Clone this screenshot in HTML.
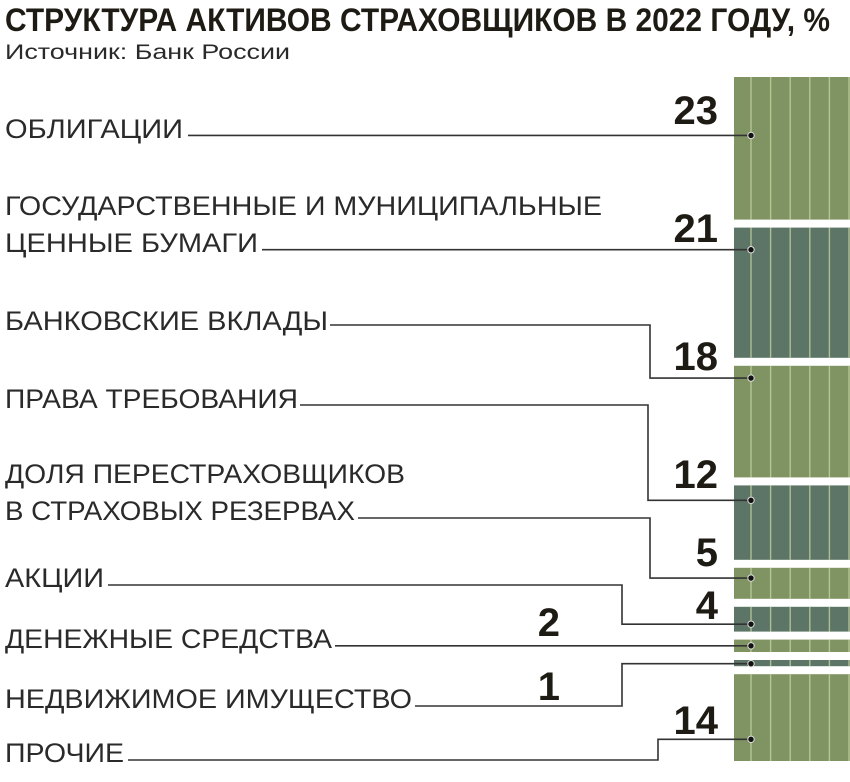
<!DOCTYPE html>
<html><head><meta charset="utf-8"><style>
html,body{margin:0;padding:0;background:#fff;}
svg{display:block;font-family:"Liberation Sans Narrow","Liberation Sans",sans-serif;}
</style></head><body>
<svg id="chart" width="850" height="782" viewBox="0 0 850 782">
<text x="5" y="31" font-size="32" font-weight="bold" fill="#1e1a14" textLength="825" lengthAdjust="spacingAndGlyphs">СТРУКТУРА АКТИВОВ СТРАХОВЩИКОВ В 2022 ГОДУ, %</text>
<text x="5" y="59" font-size="21" fill="#2a2a2a" textLength="285" lengthAdjust="spacingAndGlyphs">Источник: Банк России</text>
<g id="bars"></g><g id="leaders"></g><g id="labels"></g><g id="values"></g>
</svg>
<script>
const categories = [["ОБЛИГАЦИИ"],["ГОСУДАРСТВЕННЫЕ И МУНИЦИПАЛЬНЫЕ","ЦЕННЫЕ БУМАГИ"],["БАНКОВСКИЕ ВКЛАДЫ"],["ПРАВА ТРЕБОВАНИЯ"],["ДОЛЯ ПЕРЕСТРАХОВЩИКОВ","В СТРАХОВЫХ РЕЗЕРВАХ"],["АКЦИИ"],["ДЕНЕЖНЫЕ СРЕДСТВА"],["НЕДВИЖИМОЕ ИМУЩЕСТВО"],["ПРОЧИЕ"]];
const values = [23,21,18,12,5,4,2,1,14];
const valueLabels = ["23","21","18","12","5","4","2","1","14"];

const NS="http://www.w3.org/2000/svg";
const top0=77, scale=6.2, gap=8, barX=734, barW=116;
function yScale(v){return v*scale;}
// layout (not data): label baselines/widths, leader geometry, value label positions
const labelLayout=[[[138,178]],[[215,597],[252,253]],[[330,323]],[[408,293]],[[483,400],[520,350]],[[587,99]],[[648,327]],[[708,407]],[[762,119]]];
const leaderLayout=[[188,134,null],[262,250,null],[330,325,650],[300,405,648],[358,518,650],[108,585,622],[335,646,null],[415,706,622],[128,760,658]];
const dotFrac=[0.41,0.17,0.11,0.2,0.33,0.7,0.5,0.6,0.75];
const valuePos=[[718,124],[718,242],[718,370],[718,488],[718,566],[718,619],[560,636],[560,700],[718,734]];
function mk(tag,attrs,parent){const e=document.createElementNS(NS,tag);for(const k in attrs)e.setAttribute(k,attrs[k]);parent.appendChild(e);return e;}
const gB=document.getElementById('bars'),gL=document.getElementById('leaders'),gT=document.getElementById('labels'),gV=document.getElementById('values');
let y=top0;
values.forEach((v,i)=>{
  const h=yScale(v);
  const col=i%2===0?"#7f9462":"#5d7566";
  const seg=mk('g',{},gB);
  
  
  mk('rect',{x:barX,y:y,width:barW,height:h,fill:col},seg);
  for(let k=0;k<6;k++){mk('line',{x1:751+k*19.6,x2:751+k*19.6,y1:y,y2:y+h,stroke:"#c3d1a0","stroke-width":1.4,"stroke-opacity":0.8},seg);}
  const dy=y+h*dotFrac[i];
  const L=leaderLayout[i];
  const pts=L[2]===null?`${L[0]},${dy} 751,${dy}`:`${L[0]},${L[1]} ${L[2]},${L[1]} ${L[2]},${dy} 751,${dy}`;
  const pl=mk('polyline',{points:pts,fill:"none",stroke:"#333","stroke-width":1.6},gL);
  
  
  const dot=mk('circle',{cx:751,cy:dy,r:3.2,fill:"#111",stroke:"#ddd","stroke-width":1},gL);
  
  
  categories[i].forEach((line,j)=>{
    const t=mk('text',{x:5,y:labelLayout[i][j][0],"font-size":27,fill:"#2a2a2a",textLength:labelLayout[i][j][1],lengthAdjust:"spacingAndGlyphs"},gT);
    t.textContent=line;
    
    
  });
  const vt=mk('text',{x:valuePos[i][0],y:valuePos[i][1],"font-size":40,"font-weight":"bold",fill:"#1e1a14","text-anchor":"end"},gV);
  vt.textContent=valueLabels[i];
  
  
  y+=h+gap;
});
</script>
</body></html>
